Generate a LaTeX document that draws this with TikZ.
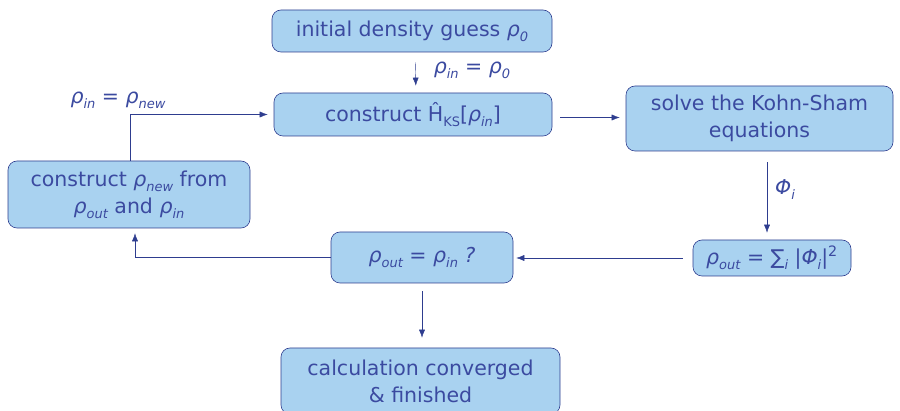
\documentclass[tikz,border=0pt]{standalone}
\usepackage{fontspec}
\setmainfont{DejaVu Sans}
\usepackage{xcolor}
\usetikzlibrary{arrows.meta, positioning}
\definecolor{boxfill}{HTML}{A9D2F0}
\definecolor{boxline}{HTML}{2E3D8F}
\definecolor{txtblue}{HTML}{3B4AA0}
% low, small italic subscript as on the slide
\newcommand{\lowsub}[1]{\raisebox{-5pt}{\fontsize{13}{13}\selectfont\itshape #1}}
\newcommand{\rhosub}[1]{\textit{ρ}\lowsub{#1}}

\begin{document}
\begin{tikzpicture}[x=1pt, y=-1pt,
  stage/.style={rectangle, rounded corners=9pt, draw=boxline, semithick, fill=boxfill, text=txtblue, font=\fontsize{20.5}{27}\selectfont, align=center, inner sep=0pt},
  lbl/.style={text=txtblue, font=\fontsize{20.5}{27}\selectfont},
  arrow/.style={-{Latex[length=8pt, width=6pt]}, boxline, thin}
]
  \useasboundingbox (0,0) rectangle (900,411);

  \node[stage, minimum width=280pt, minimum height=42pt] (guess) at (412,31) {initial density guess \rhosub{0}};
  \node[stage, minimum width=278pt, minimum height=43pt] (ham) at (413,114.5) {construct Ĥ\lowsub{\upshape KS}[\rhosub{in}]};
  \node[stage, minimum width=267pt, minimum height=65pt] (solve) at (759.5,118.5) {solve the Kohn-Sham\\equations};
  \node[stage, minimum width=158pt, minimum height=36pt] (dens) at (772,258) {\rhosub{out} = ∑\lowsub{i} |\textit{Φ}\lowsub{i}|\textsuperscript{2}};
  \node[stage, minimum width=182pt, minimum height=51pt] (check) at (422,257.5) {\rhosub{out} = \rhosub{in} \textit{?}};
  \node[stage, minimum width=242pt, minimum height=67pt] (mix) at (129,194.5) {construct \rhosub{new} from\\\rhosub{out} and \rhosub{in}};
  \node[stage, minimum width=279pt, minimum height=66pt] (done) at (420.5,381) {calculation converged\\\& finished};

  \node[lbl] (l1) at (472,70) {\rhosub{in} = \rhosub{0}};
  \node[lbl] (l2) at (118,100) {\rhosub{in} = \rhosub{new}};
  \node[lbl] (l3) at (785,190) {\textit{Φ}\lowsub{i}};

  \draw[arrow, shorten <=10pt, shorten >=7pt] ([xshift=3pt]guess.south) -- ([xshift=3pt]ham.north);
  \draw[arrow, shorten >=6pt] ([xshift=1pt]mix.north) |- (ham.west);
  \draw[arrow, shorten <=8pt, shorten >=6pt] ([yshift=-3pt]ham.east) -- ([yshift=-3pt]ham.east -| solve.west);
  \draw[arrow, shorten <=11pt, shorten >=7pt] ([xshift=7.5pt]solve.south) -- ([xshift=7.5pt]solve.south |- dens.north);
  \draw[arrow, shorten <=10pt, shorten >=3pt] (dens.west) -- (dens.west -| check.east);
  \draw[arrow, shorten >=5pt] (check.west) -| ([xshift=6pt]mix.south);
  \draw[arrow, shorten <=8pt, shorten >=10pt] (check.south) -- (check.south |- done.north);
\end{tikzpicture}
\end{document}
